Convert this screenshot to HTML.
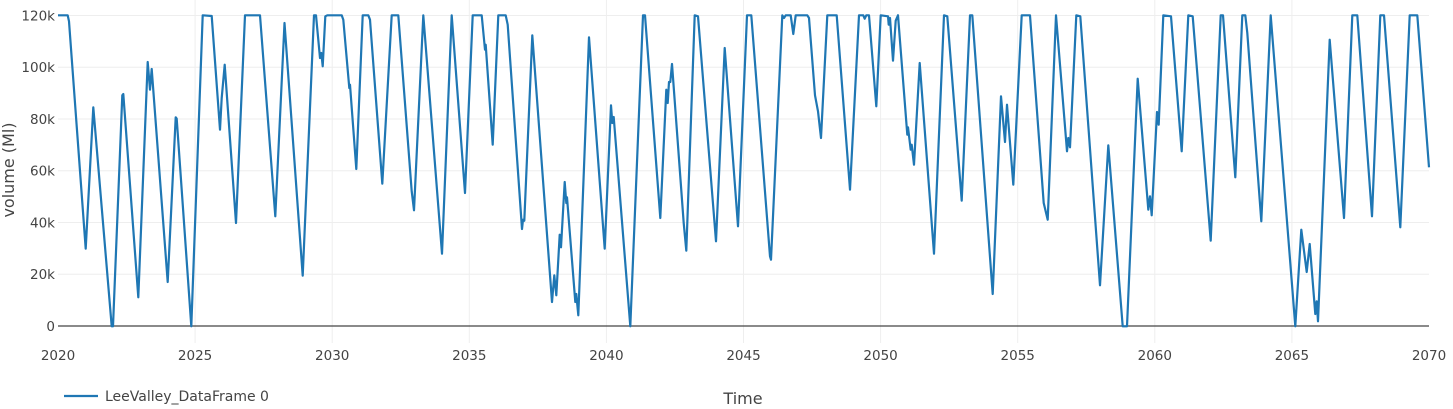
<!DOCTYPE html>
<html><head><meta charset="utf-8"><style>
html,body{margin:0;padding:0;background:#fff;}
svg{display:block;}
text{font-family:"DejaVu Sans","Liberation Sans",sans-serif;fill:#444;}
</style></head><body>
<svg width="1453" height="409" viewBox="0 0 1453 409" xmlns="http://www.w3.org/2000/svg">
<g stroke="#eeeeee" stroke-width="1">
<line x1="195.1" y1="0" x2="195.1" y2="343"/>
<line x1="332.2" y1="0" x2="332.2" y2="343"/>
<line x1="469.3" y1="0" x2="469.3" y2="343"/>
<line x1="606.4" y1="0" x2="606.4" y2="343"/>
<line x1="743.5" y1="0" x2="743.5" y2="343"/>
<line x1="880.6" y1="0" x2="880.6" y2="343"/>
<line x1="1017.7" y1="0" x2="1017.7" y2="343"/>
<line x1="1154.8" y1="0" x2="1154.8" y2="343"/>
<line x1="1291.9" y1="0" x2="1291.9" y2="343"/>
<line x1="58" y1="15.5" x2="1429" y2="15.5"/>
<line x1="58" y1="67.2" x2="1429" y2="67.2"/>
<line x1="58" y1="119" x2="1429" y2="119"/>
<line x1="58" y1="170.7" x2="1429" y2="170.7"/>
<line x1="58" y1="222.5" x2="1429" y2="222.5"/>
<line x1="58" y1="274.2" x2="1429" y2="274.2"/>
</g>
<line x1="58" y1="326" x2="1429" y2="326" stroke="#444" stroke-width="1.2"/>
<polyline fill="none" stroke="#1f77b4" stroke-width="2.2" stroke-linejoin="round" points="
58,15.3 67.7,15.3 69,21.3 85.7,248.7 93.3,107.3 111.7,326.3 113,326.3 122.3,95.3 123.3,94 138.3,297.3 147.7,62 150,89.7 151.7,69 167.7,282 175.7,117.3 176.7,118.7 191.3,326.3 202.7,15.3 211.7,16 220,129.7 221.7,98 224.7,64.7 236,223 245,15.3 260,15.3 275.3,216.3 284.5,23
302.7,275.7 314,15.3 316,15.3 320,58 321.3,53 322.7,66.3 325.3,16.3 327.3,15.3 341.7,15.3 343.3,19.7 349.3,88 350,84.7 356.3,169 362.7,15.3 368.3,15.3 370,19.7 382.3,183.7 391.7,15.3 398.3,15.3 411.7,191.3 414,210.3 423.3,15.3 442,253.7 451.7,15.3 465,193 472.7,15.3 481.7,15.3 485,49.7 485.7,44.7 492.7,144.7 498.3,15.3 505.7,15.3 507.7,24.7
522,229 523,219.7 524.3,220.7 532.3,35.3 552,302 554.3,275.3 556.3,295.3 559.7,234.7 561,247.3 564.7,182 566.3,203 567,197.3 575.3,302 576.3,294 578.3,315.3 589,37.3 604.7,248.7 611,105.3 612.3,123 613.7,117 630.3,326.3 643,15.3 645,15.3 660.3,218 666.3,89.7 667.7,103 669,82 670.3,82 672,64 683.7,223 686.3,250.7 694.7,15.3 698,16.3 716,241.3 724.7,48 738,226.3 747,15.3
751.3,15.3 770,256.3 771,259.7 782.3,15.3 784,18 785.7,15.3 790.7,15.3 793.3,34 795.7,15.3 807.3,15.3 809,18 815,95.3 818,111.3 821,138 827.3,15.3 836.7,15.3 850,189.7 859,15.3 863.3,15.3 864.7,18.7 866.3,15.3 869,15.3 876.3,106.3 880.7,15.3 888,16.3 888.7,24.7 890,18 893,60.7 895.7,20.7 898,15.3 907.3,134.7 908,127.3 910.7,149.7 911.7,144.7 914,164.7 919.7,63 934,253.7 944,15.3 947.3,16.3 961.7,200.7 970,15.3 972.3,15.3
992.7,294 1001,96.3 1005,142 1007,104.7 1013.3,184.7 1021.7,15.3 1030,15.3 1043.7,203 1047.7,219.7 1056,15.3 1067,151.3 1068.3,138 1070,147.3 1076.3,15.3 1080.3,16.3 1100,285.3 1108.3,145.3 1122.7,326.3 1127,326.3 1137.7,78.7 1148.3,209.7 1150,196.3 1151.7,215.3 1157,112 1158.7,124.7 1163.3,15.3 1171,16.3 1181.7,151.3 1188.3,15.3 1192.7,16.3
1210.7,240.7 1220.7,15.3 1223,15.3 1235.3,177.3 1242.3,15.3 1245.3,15.3 1247.3,33 1261.3,221.3 1270.7,15.3 1295.3,326.3 1301.3,229.7 1306.7,272 1309.7,244 1315.3,314 1316.7,301.3 1318,321.3 1329.7,39.7 1344,218 1352.3,15.3 1357.3,15.3 1372,216.3 1380.3,15.3 1384,15.3 1400.3,227.3 1409.7,15.3 1417.3,15.3 1429,167.3"/>
<g font-size="13.5" text-anchor="end">
<text x="55" y="20.3">120k</text>
<text x="55" y="72">100k</text>
<text x="55" y="123.8">80k</text>
<text x="55" y="175.5">60k</text>
<text x="55" y="227.3">40k</text>
<text x="55" y="279">20k</text>
<text x="55" y="330.8">0</text>
</g>
<g font-size="13.5" text-anchor="middle">
<text x="58" y="359.8">2020</text>
<text x="195.1" y="359.8">2025</text>
<text x="332.2" y="359.8">2030</text>
<text x="469.3" y="359.8">2035</text>
<text x="606.4" y="359.8">2040</text>
<text x="743.5" y="359.8">2045</text>
<text x="880.6" y="359.8">2050</text>
<text x="1017.7" y="359.8">2055</text>
<text x="1154.8" y="359.8">2060</text>
<text x="1291.9" y="359.8">2065</text>
<text x="1429" y="359.8">2070</text>
</g>
<text x="743" y="404" font-size="16" text-anchor="middle">Time</text>
<text transform="translate(14,170) rotate(-90)" font-size="16" text-anchor="middle">volume (Ml)</text>
<line x1="64" y1="396" x2="98" y2="396" stroke="#1f77b4" stroke-width="2.2"/>
<text x="105" y="401" font-size="14">LeeValley_DataFrame 0</text>
</svg>
</body></html>
